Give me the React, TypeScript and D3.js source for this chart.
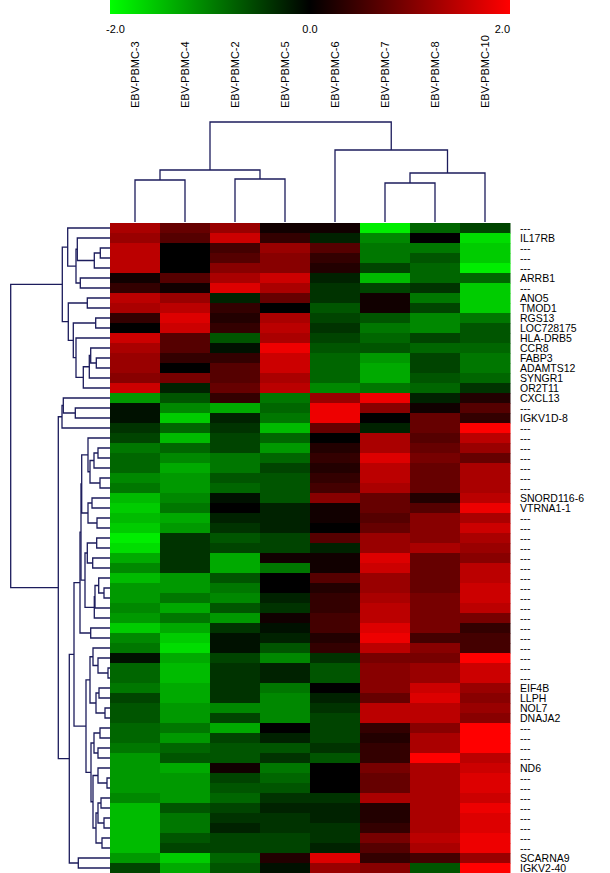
import React from 'react';
import * as d3 from 'd3';

const columns = ["EBV-PBMC-3", "EBV-PBMC-4", "EBV-PBMC-2", "EBV-PBMC-5", "EBV-PBMC-6", "EBV-PBMC-7", "EBV-PBMC-8", "EBV-PBMC-10"];

const rowLabels = [
  "---", "IL17RB", "---", "---", "---", "ARRB1", "---", "ANO5", "TMOD1", "RGS13",
  "LOC728175", "HLA-DRB5", "CCR8", "FABP3", "ADAMTS12", "SYNGR1", "OR2T11", "CXCL13", "---", "IGKV1D-8",
  "---", "---", "---", "---", "---", "---", "---", "SNORD116-6", "VTRNA1-1", "---",
  "---", "---", "---", "---", "---", "---", "---", "---", "---", "---",
  "---", "---", "---", "---", "---", "---", "EIF4B", "LLPH", "NOL7", "DNAJA2",
  "---", "---", "---", "---", "ND6", "---", "---", "---", "---", "---",
  "---", "---", "---", "SCARNA9", "IGKV2-40",
];

const values = [
  [1.33, 0.8, 1.2, 0.13, 0.13, -1.87, -0.8, -0.53],
  [1.2, 0.67, 1.6, 0.4, -0.27, -1.07, 0, -1.73],
  [1.47, 0, 0.53, 1.2, 0.67, -0.93, -0.93, -1.6],
  [1.47, 0, 0.67, 1.07, 0.4, -0.93, -0.67, -1.6],
  [1.47, 0, 1.07, 1.07, 0.27, -0.53, -0.8, -1.87],
  [0.13, 0.67, 1.33, 1.6, -0.27, -1.47, -0.8, -0.8],
  [0.4, 0.13, 1.73, 1.33, -0.4, -0.53, -0.4, -1.6],
  [1.47, 1.2, -0.27, 0.8, -0.4, 0.13, -0.93, -1.6],
  [1.33, 1.47, 0.4, 0, -0.67, 0.13, -0.53, -1.6],
  [0.4, 1.73, 0.27, 1.33, -0.53, -0.67, -1.07, -0.93],
  [0, 1.6, 0.4, 1.47, -0.4, -0.93, -1.07, -0.67],
  [1.6, 0.67, -0.67, 1.33, -0.53, -0.8, -0.53, -0.67],
  [1.33, 0.67, -0.13, 1.87, -0.67, -0.67, -0.8, -0.8],
  [1.2, 0.4, 0.4, 1.6, -0.8, -1.2, -0.53, -0.93],
  [1.2, 0, 0.67, 1.6, -0.8, -1.33, -0.53, -0.93],
  [1.07, 0.93, 0.67, 1.33, -0.8, -1.33, -0.67, -0.8],
  [1.6, -0.27, 0.8, 1.47, -1.07, -0.93, -0.8, -0.4],
  [-1.2, -0.67, 0.4, -0.93, 1.2, 1.87, -0.27, 0.27],
  [-0.13, -1.07, -1.33, -0.8, 1.87, 1.07, 0.13, 0.67],
  [-0.13, -1.6, -0.27, -0.93, 1.87, 0, 0.8, 0.4],
  [-0.4, -0.8, -0.4, -1.47, 0.8, -0.27, 0.8, 2.0],
  [-0.53, -1.47, -0.53, -0.8, 0, 1.33, 0.67, 1.47],
  [-0.93, -0.8, -0.53, -1.2, 0.27, 1.33, 0.8, 1.2],
  [-0.8, -1.07, -0.93, -0.8, 0.4, 1.73, 0.93, 0.8],
  [-0.8, -1.33, -0.93, -0.53, 0.27, 1.47, 0.8, 1.33],
  [-1.07, -1.2, -0.67, -0.67, 0.4, 1.47, 0.8, 1.33],
  [-0.93, -1.2, -0.8, -0.67, 0.53, 1.33, 0.8, 1.33],
  [-1.47, -1.07, -0.13, -0.67, 1.07, 0.8, 0.27, 1.47],
  [-1.6, -0.93, 0, -0.27, 0.13, 0.8, 0.67, 1.87],
  [-1.47, -1.33, -0.27, -0.27, 0.13, 0.67, 1.07, 1.33],
  [-1.6, -1.2, -0.4, -0.27, 0, 0.8, 1.07, 1.6],
  [-1.87, -0.4, -0.67, -0.53, 0.67, 1.2, 1.07, 1.33],
  [-1.73, -0.4, -0.53, -0.53, -0.27, 1.2, 1.33, 1.2],
  [-1.33, -0.4, -1.33, 0.13, 0.13, 1.73, 0.8, 1.07],
  [-1.07, -0.4, -1.33, -0.93, 0.13, 1.6, 0.8, 1.47],
  [-1.47, -1.2, -0.67, 0, 0.67, 1.2, 0.8, 1.47],
  [-1.2, -1.2, -0.93, 0, 0.27, 1.2, 0.8, 1.6],
  [-1.2, -0.93, -1.07, -0.27, 0.4, 1.33, 0.93, 1.6],
  [-1.07, -1.33, -0.67, -0.4, 0.4, 1.47, 0.93, 1.47],
  [-1.2, -0.93, -1.2, 0.13, 0.53, 1.47, 0.93, 0.93],
  [-1.6, -1.33, -0.4, -0.13, 0.53, 1.73, 0.93, 0.4],
  [-1.07, -1.6, -0.13, -0.27, 0.27, 1.87, 0.53, 0.53],
  [-0.93, -1.73, -0.13, -0.67, 0.4, 1.47, 1.07, 0.53],
  [-0.13, -1.33, -0.53, -1.07, -0.4, 0.93, 0.93, 2.0],
  [-0.8, -1.47, -0.4, -0.27, -0.67, 1.07, 1.2, 1.6],
  [-0.8, -1.47, -0.4, -0.27, -0.67, 1.07, 1.2, 1.6],
  [-0.93, -1.33, -0.4, -0.93, 0, 1.07, 1.6, 1.2],
  [-0.53, -1.33, -0.4, -1.07, -0.27, 0.8, 1.73, 1.07],
  [-0.67, -1.2, -1.07, -1.07, -0.4, 1.47, 1.47, 1.2],
  [-0.67, -1.2, -0.53, -1.07, -0.53, 1.47, 1.47, 1.07],
  [-0.8, -0.93, -1.33, 0, -0.53, 0.4, 1.07, 2.0],
  [-0.8, -1.2, -0.53, -0.27, -0.53, 0.27, 1.33, 2.0],
  [-0.93, -0.8, -0.67, -0.67, -0.4, 0.4, 1.33, 2.0],
  [-1.2, -0.67, -0.67, -0.4, -0.67, 0.4, 2.0, 1.47],
  [-1.2, -1.33, 0.13, -0.93, 0, 0.93, 1.33, 1.6],
  [-1.2, -1.2, -0.53, -0.8, 0, 0.8, 1.33, 1.73],
  [-1.2, -1.2, -0.67, -0.67, 0, 0.8, 1.33, 1.73],
  [-1.07, -1.2, -0.8, -0.4, -0.4, 1.33, 1.33, 1.6],
  [-1.47, -0.67, -0.53, -0.27, -0.27, 0.27, 1.33, 1.87],
  [-1.47, -0.93, -0.4, -0.4, -0.27, 0.27, 1.33, 1.73],
  [-1.47, -0.93, -0.27, -0.4, -0.4, 0.4, 1.33, 1.73],
  [-1.47, -0.67, -0.53, -0.53, -0.4, 0.93, 1.47, 1.87],
  [-1.47, -0.53, -0.53, -0.53, -0.27, 0.67, 1.33, 1.87],
  [-1.2, -1.6, -0.8, 0.27, 1.73, 0.4, 0.53, 1.2],
  [-0.53, -1.33, -0.67, -0.13, 1.2, 1.07, -0.67, 2.0],
];

const legendTicks = [-2, 0, 2];

type Ref = number | string;
// [node, child A, child B, merge height]
const colMerges: [string, Ref, Ref, number][] = [
  ["c12", 0, 1, 42],
  ["c34", 2, 3, 43],
  ["cL", "c12", "c34", 52],
  ["c67", 5, 6, 39],
  ["c678", "c67", 7, 49],
  ["cR", 4, "c678", 72],
  ["root", "cL", "cR", 100],
];

const rowMerges: [string, Ref, Ref, number][] = [
  ["V", 2, 3, 9.7],
  ["W", "V", 4, 15.7],
  ["Y", 1, "W", 32.7],
  ["Z", 5, 6, 29.7],
  ["X", "Y", "Z", 34],
  ["A1", 0, "X", 42.3],
  ["n78", 7, 8, 22.7],
  ["n910", 9, 10, 14.3],
  ["P", 13, 14, 13.7],
  ["Q", 12, "P", 19.3],
  ["R", "Q", 15, 20.7],
  ["S", "R", 16, 26.7],
  ["T", 11, "S", 34],
  ["U", "n910", "T", 36.7],
  ["A2", "n78", "U", 41.7],
  ["A", "A1", "A2", 47.7],
  ["n1819", 18, 19, 34.7],
  ["B1", 17, "n1819", 46.7],
  ["B1x", "B1", 20, 48],
  ["a", 22, 23, 12],
  ["b", "a", 24, 16],
  ["c", 25, 26, 10],
  ["d", "b", "c", 20],
  ["e", 21, "d", 22],
  ["f", 27, 28, 18],
  ["g", 29, 30, 13],
  ["h", "f", "g", 22],
  ["G1", "e", "h", 28.3],
  ["i", 31, 32, 13.3],
  ["j", 33, 34, 17.3],
  ["k", "i", "j", 22.7],
  ["l", 36, 37, 6],
  ["m", 35, "l", 11.3],
  ["n", "m", 38, 15],
  ["o", "n", 39, 15.7],
  ["G2", "k", "o", 25],
  ["G", "G1", "G2", 29],
  ["p", 40, 41, 19.3],
  ["E", "G", "p", 30],
  ["q", 44, 45, 2],
  ["r", 43, "q", 12],
  ["s", 42, "r", 17],
  ["t", 46, 47, 11],
  ["u", 48, 49, 5],
  ["v", "t", "u", 14],
  ["w", "s", "v", 20],
  ["x1", 50, 51, 10],
  ["x2", 52, 53, 12],
  ["x3", "x1", "x2", 16],
  ["x4", 55, 56, 3],
  ["x5", 54, "x4", 12],
  ["x6", 57, 58, 9],
  ["x7", 59, 60, 6],
  ["x8", "x6", "x7", 12],
  ["x9", 61, 62, 8],
  ["x10", "x8", "x9", 14],
  ["x11", "x5", "x10", 17],
  ["x12", "x3", "x11", 19],
  ["F", "w", "x12", 24],
  ["B2a", "E", "F", 36],
  ["n6364", 63, 64, 31.7],
  ["B2b", "B2a", "n6364", 40.7],
  ["B", "B1x", "B2b", 51.7],
  ["root", "A", "B", 99.3],
];

const W = 610;
const H = 873;
const HM = { left: 110, right: 510, top: 223, bottom: 873 };
const LINE = "#1c1c5c";
const FONT = "'Liberation Sans', Arial, sans-serif";

function buildSegments(merges: [string, Ref, Ref, number][], leafPos: number[]) {
  const pos = new Map<Ref, number>();
  const hgt = new Map<Ref, number>();
  leafPos.forEach((p, i) => { pos.set(i, p); hgt.set(i, 0); });
  const segs: { pa: number; ha: number; pb: number; hb: number; h: number }[] = [];
  merges.forEach(([name, a, b, h]) => {
    const pa = pos.get(a)!, pb = pos.get(b)!;
    segs.push({ pa, ha: hgt.get(a)!, pb, hb: hgt.get(b)!, h });
    pos.set(name, (pa + pb) / 2);
    hgt.set(name, h);
  });
  return segs;
}

export default function App() {
  const x = d3.scaleBand<number>().domain(d3.range(columns.length)).range([HM.left, HM.right]);
  const y = d3.scaleBand<number>().domain(d3.range(rowLabels.length)).range([HM.top, HM.bottom]);
  const color = d3.scaleLinear<string>().domain([-2, 0, 2]).range(["#00ff00", "#000000", "#ff0000"]).clamp(true);
  const legendX = d3.scaleLinear().domain([-2, 2]).range([HM.left, HM.right]);

  const colH = d3.scaleLinear().domain([0, 100]).range([222, 122]);
  const rowH = d3.scaleLinear().domain([0, 100]).range([HM.left, 10]);

  const colSegs = buildSegments(colMerges, columns.map((_, i) => x(i)! + x.bandwidth() / 2));
  const rowSegs = buildSegments(rowMerges, rowLabels.map((_, i) => y(i)! + y.bandwidth() / 2));

  return (
    <div style={{ position: "absolute", left: 0, top: 0 }}>
      <svg width={W} height={H} style={{ display: "block", background: "#fff" }}>
        <defs>
          <linearGradient id="lg" x1="0" x2="1" y1="0" y2="0">
            {legendTicks.map((t) => (
              <stop key={t} offset={(legendX(t) - HM.left) / (HM.right - HM.left)} stopColor={color(t)} />
            ))}
          </linearGradient>
        </defs>
        <rect x={HM.left} y={0} width={HM.right - HM.left} height={14} fill="url(#lg)" />
        {legendTicks.map((t, i) => (
          <text key={t} x={i === 0 ? legendX(t) - 4 : legendX(t)} y={33} fontFamily={FONT} fontSize={11}
            textAnchor={i === 0 ? "start" : i === legendTicks.length - 1 ? "end" : "middle"} fill="#000">
            {t.toFixed(1)}
          </text>
        ))}
        {columns.map((c, i) => (
          <text key={c} transform={`translate(${x(i)! + x.bandwidth() / 2},108) rotate(-90)`} dy="0.35em"
            fontFamily={FONT} fontSize={11} fill="#000">{c}</text>
        ))}
        {colSegs.map((s, i) => (
          <path key={i} d={`M${s.pa},${colH(s.ha)}V${colH(s.h)}H${s.pb}V${colH(s.hb)}`} fill="none" stroke={LINE} strokeWidth={1.3} />
        ))}
        {rowSegs.map((s, i) => (
          <path key={i} d={`M${rowH(s.ha)},${s.pa}H${rowH(s.h)}V${s.pb}H${rowH(s.hb)}`} fill="none" stroke={LINE} strokeWidth={1.3} />
        ))}
        {values.map((row, r) => row.map((v, c) => (
          <rect key={`${r}-${c}`} x={x(c)} y={y(r)} width={x.bandwidth() + 0.5} height={y.bandwidth() + 0.5} fill={color(v)} />
        )))}
        {rowLabels.map((l, i) => (
          <text key={i} x={520} y={y(i)! + y.bandwidth() / 2} dy="0.35em" fontFamily={FONT} fontSize={10.5} fill="#000">{l}</text>
        ))}
      </svg>
    </div>
  );
}
